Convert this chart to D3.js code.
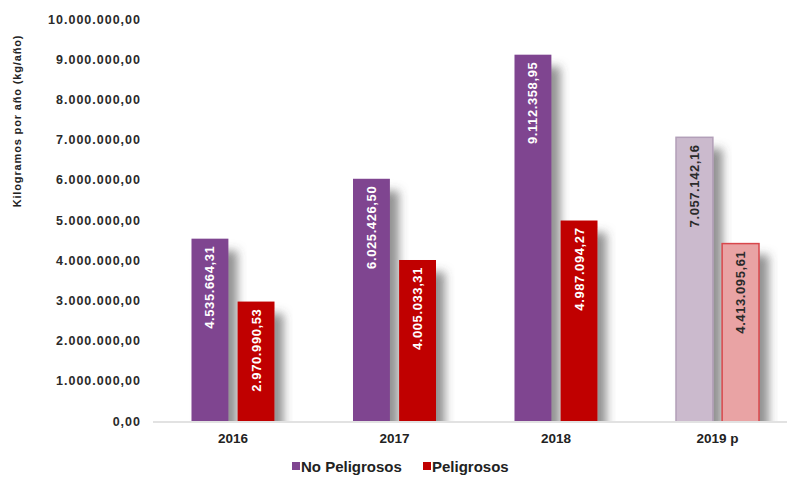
<!DOCTYPE html>
<html>
<head>
<meta charset="utf-8">
<script src="https://cdn.jsdelivr.net/npm/d3@7"></script>
<style>
  html, body { margin: 0; padding: 0; background: #fff; }
  svg { display: block; font-family: "Liberation Sans", Arial, sans-serif; }
</style>
</head>
<body>
<svg id="chart" width="787" height="477"></svg>
<script>
// ---- Data ----
const categories = ["2016", "2017", "2018", "2019 p"];
const seriesNames = ["No Peligrosos", "Peligrosos"];
const noPeligrosos = [4535664.31, 6025426.50, 9112358.95, 7057142.16];
const peligrosos = [2970990.53, 4005033.31, 4987094.27, 4413095.61];
const yTicks = [0, 1000000, 2000000, 3000000, 4000000, 5000000, 6000000, 7000000, 8000000, 9000000, 10000000];
const yTitle = "Kilogramos por año (kg/año)";

// ---- Styles ----
const fillColors = { "No Peligrosos": "#7f4590", "Peligrosos": "#c00000" };
const provisionalFill = { "No Peligrosos": "#cbbacd", "Peligrosos": "#e9a3a4" };
const provisionalStroke = { "No Peligrosos": "#b29fb8", "Peligrosos": "#d8474c" };

const locale = d3.formatLocale({ decimal: ",", thousands: ".", grouping: [3], currency: ["", ""] });
const fmt = locale.format(",.2f");

const svg = d3.select("#chart");
const W = 787, H = 477;

const y = d3.scaleLinear().domain([0, 10000000]).range([421, 19]);
const x0 = d3.scaleBand().domain(categories).range([152.25, 798.25]).paddingInner(0).paddingOuter(0);
const bw = x0.bandwidth();
const groupW = 83;
const x1 = d3.scaleBand().domain(seriesNames).range([(bw - groupW) / 2, (bw + groupW) / 2]).paddingInner(0.2).paddingOuter(0);

// shadow filter
const defs = svg.append("defs");
const f = defs.append("filter").attr("id", "shadow").attr("x", "-50%").attr("y", "-20%").attr("width", "200%").attr("height", "140%");
f.append("feGaussianBlur").attr("in", "SourceAlpha").attr("stdDeviation", 5).attr("result", "blur");
f.append("feOffset").attr("in", "blur").attr("dx", 9).attr("dy", 12).attr("result", "off");
f.append("feFlood").attr("flood-color", "#4a4a4a").attr("flood-opacity", 0.6).attr("result", "col");
f.append("feComposite").attr("in", "col").attr("in2", "off").attr("operator", "in").attr("result", "sh");
const m = f.append("feMerge");
m.append("feMergeNode").attr("in", "sh");
m.append("feMergeNode").attr("in", "SourceGraphic");

const clip = defs.append("clipPath").attr("id", "plotclip");
clip.append("rect").attr("x", 0).attr("y", 0).attr("width", W).attr("height", 421);

// Y axis labels
const yAxis = d3.axisLeft(y).tickValues(yTicks).tickFormat(fmt).tickSize(0).tickPadding(0);
const gy = svg.append("g").attr("transform", "translate(141,0)").call(yAxis);
gy.select(".domain").remove();
gy.selectAll("text")
  .attr("font-size", "12.5px").attr("font-weight", "bold").attr("fill", "#2a2a2a")
  .attr("letter-spacing", "1px")
  .attr("font-family", "'Liberation Sans', Arial, sans-serif");

// Y title
svg.append("text")
  .attr("transform", "translate(21,121) rotate(-90)")
  .attr("text-anchor", "middle")
  .attr("font-size", "11px").attr("font-weight", "bold").attr("fill", "#222")
  .attr("letter-spacing", "0.85px")
  .text(yTitle);

// Bars
const data = categories.map((c, i) => ({
  cat: c, idx: i,
  vals: [{ s: seriesNames[0], v: noPeligrosos[i] }, { s: seriesNames[1], v: peligrosos[i] }]
}));

const groups = svg.append("g").attr("clip-path", "url(#plotclip)")
  .selectAll("g.grp").data(data).join("g")
  .attr("class", "grp")
  .attr("transform", d => `translate(${x0(d.cat)},0)`);

groups.selectAll("rect").data(d => d.vals.map(v => ({ ...v, prov: d.idx === 3 }))).join("rect")
  .attr("x", d => x1(d.s))
  .attr("y", d => y(d.v))
  .attr("width", x1.bandwidth())
  .attr("height", d => y(0) - y(d.v) + 2)
  .attr("fill", d => d.prov ? provisionalFill[d.s] : fillColors[d.s])
  .attr("stroke", d => d.prov ? provisionalStroke[d.s] : "none")
  .attr("stroke-width", d => d.prov ? 1.5 : 0)
  .attr("filter", "url(#shadow)");

// Value labels
const lbl = svg.append("g").selectAll("g.lg").data(data).join("g")
  .attr("class", "lg")
  .attr("transform", d => `translate(${x0(d.cat)},0)`);

lbl.selectAll("text").data(d => d.vals.map(v => ({ ...v, prov: d.idx === 3 }))).join("text")
  .attr("transform", d => `translate(${x1(d.s) + x1.bandwidth() / 2 + 4.5},${y(d.v) + 7}) rotate(-90)`)
  .attr("text-anchor", "end")
  .attr("font-size", "13px").attr("font-weight", "bold")
  .attr("letter-spacing", "0.6px")
  .attr("fill", d => d.prov ? "#2a2a2a" : "#ffffff")
  .text(d => fmt(d.v));

// Baseline
svg.append("line")
  .attr("x1", 153).attr("x2", 787)
  .attr("y1", y(0) + 1).attr("y2", y(0) + 1)
  .attr("stroke", "#d9d9d9").attr("stroke-width", 1.5);

// X axis labels
const xAxis = d3.axisBottom(x0).tickSize(0).tickPadding(0);
const gx = svg.append("g").attr("transform", "translate(0,443)").call(xAxis);
gx.select(".domain").remove();
gx.selectAll("text")
  .attr("dy", 0)
  .attr("font-size", "13.5px").attr("font-weight", "bold").attr("fill", "#222")
  .attr("font-family", "'Liberation Sans', Arial, sans-serif");

// Legend
const legend = svg.append("g").attr("transform", "translate(292,467)");
const legX = [0, 131];
seriesNames.forEach((s, i) => {
  const g = legend.append("g").attr("transform", `translate(${legX[i]},0)`);
  g.append("rect").attr("x", 0).attr("y", -5).attr("width", 8).attr("height", 8).attr("fill", fillColors[s]);
  g.append("text").attr("x", 9).attr("y", 5)
    .attr("font-size", "15px").attr("font-weight", "bold").attr("fill", "#222")
    .text(s);
});
</script>
</body>
</html>
